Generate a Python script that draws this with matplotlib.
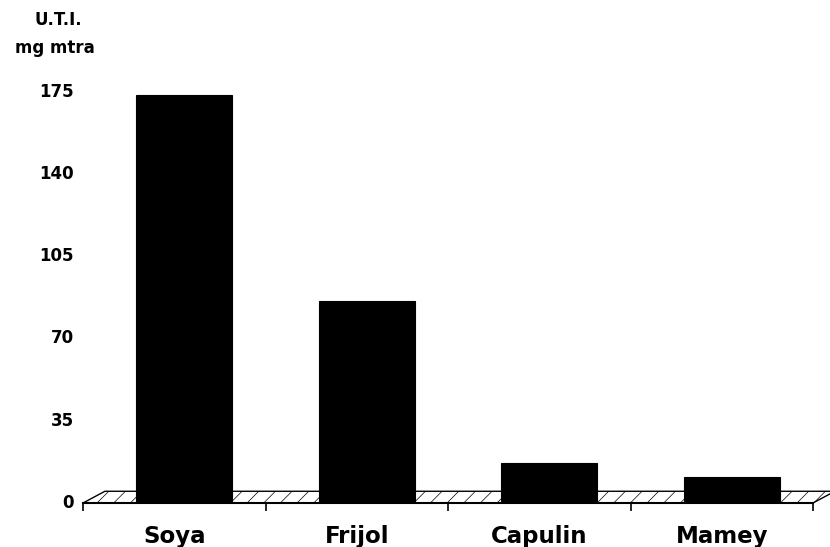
import matplotlib
matplotlib.use("Agg")
import matplotlib.pyplot as plt
from matplotlib.patches import Polygon

plt.rcParams['font.family'] = ['DejaVu Sans']
plt.rcParams['font.weight'] = 'bold'
plt.rcParams['hatch.linewidth'] = 0.5
plt.rcParams['hatch.color'] = '#555555'

foods = ["Soya", "Frijol", "Capulin", "Mamey"]
uti = [173, 85, 16, 10]
yticks = [0, 35, 70, 105, 140, 175]

W, H = 830, 547
fig = plt.figure(figsize=(W / 100, H / 100), dpi=100)

# axes box in pixels: x 83..813, y 83..503 (top..bottom)
ax = fig.add_axes([83 / W, (H - 503) / H, 730 / W, 420 / H])
ax.set_xlim(-0.5, 3.5)
ax.set_ylim(-1, 178)

# depth offset of the 3-D floor, in data units
dx, dy = 0.12, 5.0

# floor slab
n = len(foods)
floor = Polygon([(-0.5, -1), (n - 0.5, -1), (n - 0.5 + dx, -1 + dy), (-0.5 + dx, -1 + dy)],
                closed=True, facecolor='white', hatch='//',
                linewidth=1.0, clip_on=False, zorder=1)
floor.set_edgecolor('black')
ax.add_patch(floor)

# bars, pushed back half the floor depth
xs = [i + 0.055 for i in range(n)]
ax.bar(xs, uti, width=0.525, bottom=0, color='black', edgecolor='black',
       linewidth=0.8, zorder=3)

for s in ['top', 'right', 'left']:
    ax.spines[s].set_visible(False)
ax.spines['bottom'].set_linewidth(1.5)
ax.spines['bottom'].set_zorder(4)

ax.set_yticks(yticks)
ax.set_yticklabels([str(t) for t in yticks], fontsize=12, fontweight='bold')
ax.tick_params(axis='y', length=0, pad=6.5)

ax.set_xticks(range(n))
ax.set_xticklabels(foods, fontsize=16.5, fontweight='bold')
ax.set_xticks([i - 0.5 for i in range(n + 1)], minor=True)
ax.tick_params(axis='x', which='major', length=0, pad=16)
ax.tick_params(axis='x', which='minor', length=6, width=1.2, direction='out')

fig.text(58 / W, 1 - 25 / H, "U.T.I.", ha='center', va='baseline', fontsize=12, fontweight='bold')
fig.text(55 / W, 1 - 53 / H, "mg mtra", ha='center', va='baseline', fontsize=12, fontweight='bold')

fig.savefig("out.png", dpi=100)
